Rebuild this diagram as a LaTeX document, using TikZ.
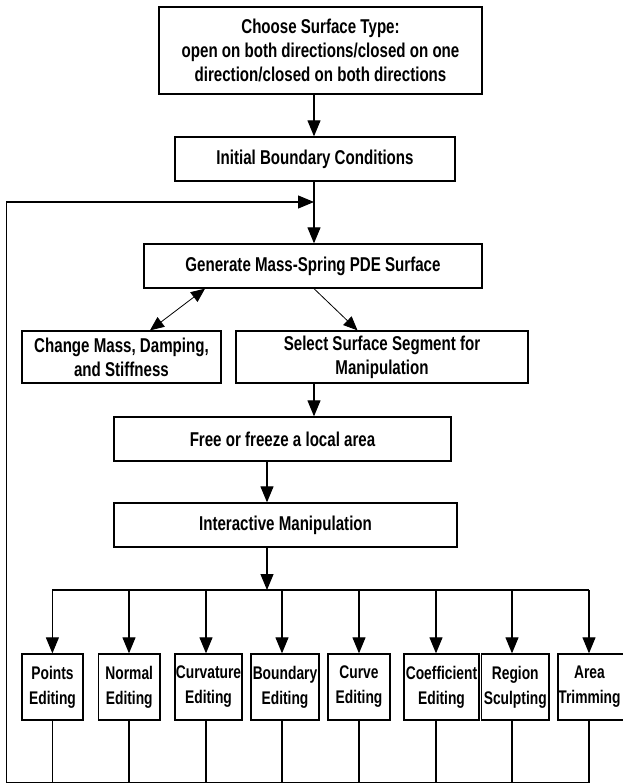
\documentclass[tikz,border=0pt]{standalone}
\usepackage{fontspec}
\setmainfont{Liberation Sans}[FakeStretch=0.755]
\usetikzlibrary{arrows.meta}
\begin{document}
\begin{tikzpicture}[x=1pt,y=-1pt,
  box/.style={draw=black, line width=1.3pt, rectangle, inner sep=0pt, align=center, font=\fontsize{20}{24}\selectfont\bfseries},
  sbox/.style={box, minimum height=66pt, font=\fontsize{18.3}{25}\selectfont\bfseries},
  stxt/.style={inner sep=0pt, align=center, font=\fontsize{18.3}{25}\selectfont\bfseries},
  conn/.style={line width=1.1pt, -{Triangle[length=16pt,width=13pt]}},
  plain/.style={line width=1.1pt},
  diag/.style={line width=0.8pt}
]
\useasboundingbox (0,0) rectangle (623,784);
\clip (0,0) rectangle (623,784);
\fill[white] (0,0) rectangle (623,784);

% main column
\node[box, minimum width=323pt, minimum height=87pt] (top) at (320.5,50.5)
  {Choose Surface Type:\\open on both directions/closed on one\\direction/closed on both directions};
\node[box, minimum width=280pt, minimum height=44pt] (init) at (315,159) {Initial Boundary Conditions};
\node[box, minimum width=338pt, minimum height=44pt] (gen) at (313,266) {Generate Mass-Spring PDE Surface};
\node[box, minimum width=199pt, minimum height=52pt] (change) at (121.5,357) {Change Mass, Damping,\\and Stiffness};
\node[box, minimum width=292pt, minimum height=52pt] (select) at (382,357) {Select Surface Segment for\\Manipulation};
\node[box, minimum width=337pt, minimum height=44pt] (free) at (282.5,439) {Free or freeze a local area};
\node[box, minimum width=343pt, minimum height=44pt] (inter) at (285.5,525) {Interactive Manipulation};

% bottom row
\node[sbox, minimum width=61pt]   (p1) at (52.5,687)  {Points\\Editing};
\node[sbox, minimum width=61.5pt] (p2) at (129.25,687) {Normal\\Editing};
\node[sbox, minimum width=67pt]   (p3) at (208.5,687) {Curvature\\Editing};
\node[sbox, minimum width=68pt]   (p4) at (285,687)   {Boundary\\Editing};
\node[sbox, minimum width=62pt]   (p5) at (359,687)   {Curve\\Editing};
\node[sbox, minimum width=75pt]   (p6) at (441.5,687) {Coefficient\\Editing};
\node[sbox, minimum width=67.5pt] (p7) at (515.25,687) {Region\\Sculpting};
\node[sbox, minimum width=76pt]   (p8) at (596,687)   {};
\node[stxt] (p8t) at (589.5,687) {Area\\Trimming};

% helper coordinates
\coordinate (ax) at (314,0);
\coordinate (ax2) at (267,0);
\coordinate (dA) at (205,0);
\coordinate (dB) at (150,0);
\coordinate (dC) at (357.5,0);
\coordinate (bl) at (6.7,782.7);
\coordinate (fbl) at (6.7,202);
\coordinate (fbt) at (314,202);
\coordinate (b1) at (52.4,590);
\coordinate (b2) at (129,590);
\coordinate (b3) at (206,590);
\coordinate (b4) at (282,590);
\coordinate (b5) at (359,590);
\coordinate (b6) at (436,590);
\coordinate (b7) at (512,590);
\coordinate (b8) at (589,590);

% connectors
\draw[conn] (top.south -| ax) -- (init.north -| ax);
\draw[conn] (init.south -| ax) -- (gen.north -| ax);
\draw[diag, {Triangle[length=14pt,width=12pt]}-{Triangle[length=14pt,width=12pt]}] (gen.south -| dA) -- (change.north -| dB);
\draw[diag, -{Triangle[length=14pt,width=12pt]}] (gen.south -| ax) -- (select.north -| dC);
\draw[conn] (select.south -| ax) -- (free.north -| ax);
\draw[conn] (free.south -| ax2) -- (inter.north -| ax2);
\draw[conn] (inter.south -| ax2) -- (b1 -| ax2);
\draw[plain] (b1) -- (b8);
\foreach \i in {1,...,8} {
  \draw[conn] (b\i) -- (p\i.north -| b\i);
  \draw[plain] (p\i.south -| b\i) -- (b\i |- bl);
}
\draw[plain] (b8 |- bl) -- (bl);
\draw[conn, line join=miter] (bl) -- (fbl) -- (fbt);
\end{tikzpicture}
\end{document}
